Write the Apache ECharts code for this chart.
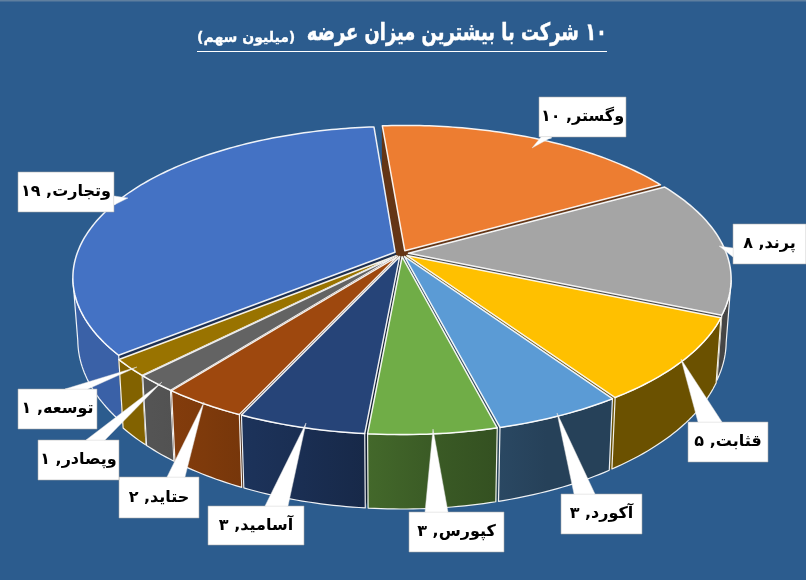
<!DOCTYPE html>
<html><head><meta charset="utf-8">
<style>html,body{margin:0;padding:0;background:#2C5C8E}#c{width:806px;height:580px}</style>
<script src="https://cdn.jsdelivr.net/npm/echarts@6/dist/echarts.min.js"></script>
</head><body><div id="c"></div>
<script>
const names=['وتجارت','وگستر','پرند','قثابت','آکورد','کپورس','آسامید','حتاید','وپصادر','توسعه'];
const values=[19,10,8,5,3,3,3,2,1,1];
const colors=['#4472C4','#ED7D31','#A5A5A5','#FFC000','#5B9BD5','#70AD47','#264478','#9E480E','#636363','#997300'];
const titleMain='\u202B۱۰ شرکت با بیشترین میزان عرضه\u202C';
const titleSub='(میلیون سهم)';
// callout layout: box x,y,w,h ; pointer tip x,y ; pointer base two points
const callouts=[
 [18,172,96,40, 128,198, 114,196,114,205],
 [539,97,87,40, 532,148, 541,137,552,137],
 [733,224,73,40, 719,246, 733,248,733,257],
 [688,422,80,40, 681,359, 698,422,722,422],
 [561,494,81,40, 557,413, 574,494,595,494],
 [409,512,95,40, 433,429, 425,512,448,512],
 [208,506,96,39, 306,423, 265,506,288,506],
 [119,477,80,41, 204,402, 167,477,185,477],
 [38,440,81,40, 162,382, 86,440,105,440],
 [18,389,79,40, 137,367, 65,389,88,389]
];
const CX=401.5,CY=253.5,R=318,RY=147,D=6,EX=0.022,START=231;
const total=values.reduce((a,b)=>a+b,0);
const fa=n=>String(n).replace(/\d/g,c=>'۰۱۲۳۴۵۶۷۸۹'[c]);
const rad=a=>a*Math.PI/180;
function proj(u,v){const s=D/(D-v);return [CX+R*u*s,CY+RY*v*s];}
function drop(p){return [CX+(p[0]-CX)*0.985,p[1]+60+0.08*(p[1]-254)];}
function shade(hex,f){const n=parseInt(hex.slice(1),16);
 return 'rgb('+[(n>>16)&255,(n>>8)&255,n&255].map(c=>Math.round(c*f)).join(',')+')';}
const shadeStops=[[0,.85],[.12,.85],[.2,.8],[.35,.68],[.55,.52],[.72,.42],[1,.42]];
function wallFill(hex){return new echarts.graphic.LinearGradient(73,0,731,0,
  shadeStops.map(s=>({offset:s[0],color:shade(hex,s[1])})),true);}
const spans=[];let acc=START;
values.forEach(v=>{const a0=acc,a1=acc+v/total*360;spans.push([a0,a1]);acc=a1;});
const order=spans.map((s,i)=>[i,-Math.cos(rad((s[0]+s[1])/2))]).sort((a,b)=>a[1]-b[1]).map(x=>x[0]);
const line='rgba(255,255,255,.92)';
function sliceItem(params,api){
 const i=params.dataIndex;api.value(0);
 const [a0,a1]=spans[i],m=rad((a0+a1)/2);
 const ou=EX*Math.sin(m),ov=-EX*Math.cos(m);
 const pt=a=>proj(Math.sin(rad(a))+ou,-Math.cos(rad(a))+ov);
 const rim=[],front=[];const n=Math.max(4,Math.ceil(a1-a0));
 for(let k=0;k<=n;k++){const a=a0+(a1-a0)*k/n,p=pt(a);rim.push(p);
   if(-Math.cos(rad(a))>1/D)front.push(p);}
 const apex=proj(ou,ov);
 const z=order.indexOf(i)*10+2;
 const col=colors[i];
 const kids=[];
 const wall=(pts,fill,zz,stroke)=>kids.push({type:'polygon',z2:zz,shape:{points:pts},
   style:{fill:fill,stroke:stroke,lineWidth:1.2,lineJoin:'round'}});
 const dark=shade(col,.42);
 wall([apex,rim[0],drop(rim[0]),drop(apex)],dark,z,dark);
 wall([apex,rim[n],drop(rim[n]),drop(apex)],dark,z,dark);
 if(front.length>1)wall(front.concat(front.map(drop).reverse()),wallFill(col),z+1,line);
 kids.push({type:'polygon',z2:z+2,shape:{points:[apex].concat(rim)},
   style:{fill:col,stroke:line,lineWidth:1.5,lineJoin:'round'}});
 return {type:'group',children:kids};
}
function labelItem(params,api){
 const i=params.dataIndex,c=callouts[i];
 const [x,y,w,h,tx,ty,b1x,b1y,b2x,b2y]=c;
 return {type:'group',children:[
  {type:'rect',z2:500,shape:{x,y,width:w,height:h},style:{fill:'#fff',stroke:'rgba(170,170,170,.7)',lineWidth:.8}},
  {type:'polygon',z2:501,shape:{points:[[b1x,b1y],[tx,ty],[b2x,b2y]]},style:{fill:'#fff',stroke:'rgba(225,225,225,.9)',lineWidth:.5}},
  {type:'rect',z2:501,shape:{x:Math.min(b1x,b2x)+.6,y:Math.min(b1y,b2y)+.6,width:Math.max(Math.abs(b2x-b1x)-1.2,1),height:Math.max(Math.abs(b2y-b1y)-1.2,1)},style:{fill:'#fff'}},
  {type:'text',z2:502,style:{x:x+w/2,y:y+h/2,text:names[i]+', '+fa(api.value(0)),
    fill:'#000',font:'600 16px "DejaVu Sans"',align:'center',verticalAlign:'middle'}}
 ]};
}
const chart=echarts.init(document.getElementById('c'),null,{renderer:'canvas'});
chart.setOption({
 animation:false,backgroundColor:'#2C5C8E',
 graphic:[
  {type:'rect',z:1,shape:{x:0,y:0,width:806,height:1.5},style:{fill:'#5f7f9f'}},
  {type:'text',z:10,x:607,y:34,scaleX:.745,style:{x:0,y:0,text:titleMain,fill:'#fff',stroke:'#fff',lineWidth:.5,font:'bold 24px "DejaVu Sans"',align:'right',verticalAlign:'middle'}},
  {type:'text',z:10,style:{x:197,y:38,text:titleSub,fill:'#fff',stroke:'#fff',lineWidth:.3,font:'bold 14px "DejaVu Sans"',align:'left',verticalAlign:'middle'}},
  {type:'line',z:10,shape:{x1:197,y1:51.5,x2:607,y2:51.5},style:{stroke:'#fff',lineWidth:1}}
 ],
 series:[
  {type:'custom',coordinateSystem:'none',data:values,renderItem:sliceItem,silent:true,z:2},
  {type:'custom',coordinateSystem:'none',data:values,renderItem:labelItem,silent:true,z:3}
 ]
});
</script></body></html>
